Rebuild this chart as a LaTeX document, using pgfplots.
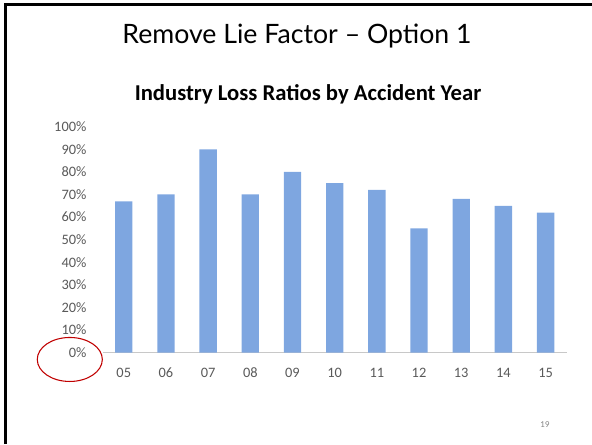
\documentclass[border=0pt]{standalone}
\usepackage{fontspec}
\setmainfont{Carlito}
\newfontfamily\gill{Lato}
\usepackage{pgfplots}
\pgfplotsset{compat=1.18}
\definecolor{cBar}{HTML}{7EA6E0}
\definecolor{cTick}{HTML}{595959}
\definecolor{cBase}{HTML}{C8C8C8}
\definecolor{cRing}{HTML}{C00000}

\begin{document}
\begin{tikzpicture}
  % slide canvas, 592x444 px at 0.75pt per px
  \path[use as bounding box] (0,0) rectangle (444pt,333pt);
  \draw[line width=2pt,black] (3pt,329.5pt) -- (444pt,329.5pt);
  \draw[line width=2.2pt,black] (4.3pt,0pt) -- (4.3pt,330.5pt);

  \node[anchor=base,font=\gill\fontsize{20}{24}\selectfont] at (222.75pt,300.5pt)
    {Remove Lie Factor \textendash{} Option 1};

  \node[anchor=base,font=\bfseries\fontsize{17}{20}\selectfont] at (231pt,257.5pt)
    {Industry Loss Ratios by Accident Year};

  \begin{axis}[
      at={(77pt,68.5pt)}, anchor=south west,
      scale only axis, width=348pt, height=169.5pt,
      ybar, bar width=13pt,
      xmin=-0.5, xmax=10.5, ymin=0, ymax=100,
      axis lines*=left,
      x axis line style={-,draw=cBase,line width=1pt},
      y axis line style={draw=none},
      major tick length=0pt,
      xtick=data,
      xticklabels={05,06,07,08,09,10,11,12,13,14,15},
      ytick={0,10,...,100},
      yticklabels={0\%,10\%,20\%,30\%,40\%,50\%,60\%,70\%,80\%,90\%,100\%},
      tick label style={font=\fontsize{10.8}{12}\selectfont,text=cTick,inner sep=0pt},
      xticklabel style={anchor=center,yshift=-15pt},
      yticklabel style={anchor=east,xshift=-12pt},
      clip=false,
    ]
    \addplot[fill=cBar,draw=none] coordinates {
      (0,67) (1,70) (2,90) (3,70) (4,80) (5,75)
      (6,72) (7,55) (8,68) (9,65) (10,62)};
  \end{axis}

  \draw[cRing,line width=0.8pt] (52.35pt,63.4pt) ellipse (24.4pt and 16.5pt);

  \node[font=\gill\fontsize{6}{7}\selectfont,text=gray] at (408.75pt,14.25pt) {19};
\end{tikzpicture}
\end{document}
